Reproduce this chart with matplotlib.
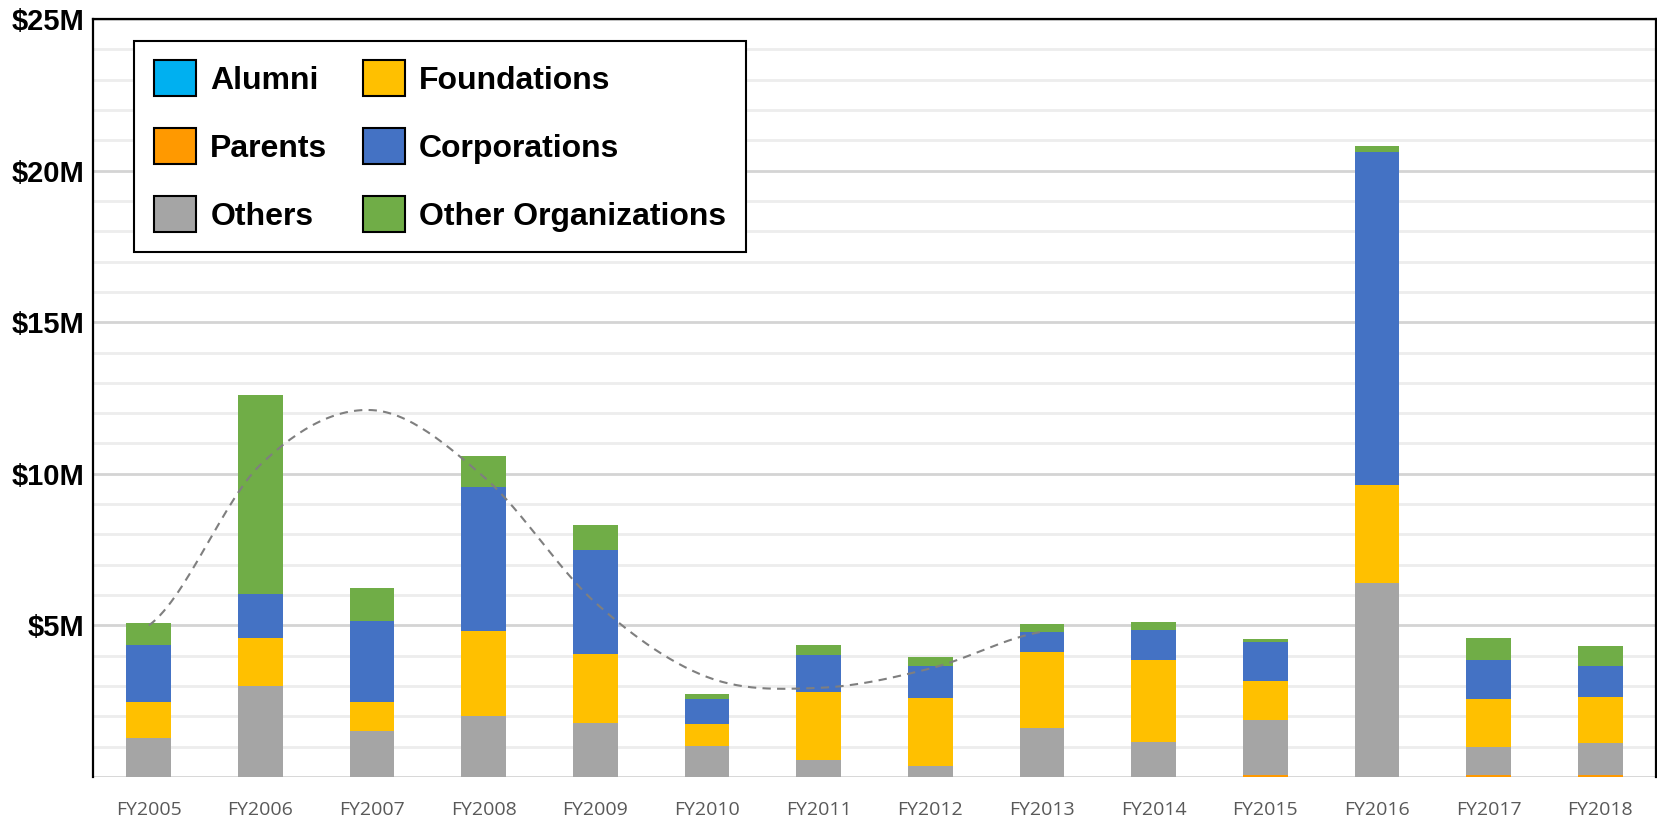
import numpy as np
import matplotlib.pyplot as plt
from matplotlib.patches import Patch

years = ['FY2005', 'FY2006', 'FY2007', 'FY2008', 'FY2009', 'FY2010', 'FY2011',
         'FY2012', 'FY2013', 'FY2014', 'FY2015', 'FY2016', 'FY2017', 'FY2018']

# values in $M
alumni = [0, 0, 0, 0, 0, 0, 0, 0, 0, 0, 0, 0, 0, 0]
parents = [0, 0, 0, 0, 0, 0, 0, 0, 0, 0, 0.05, 0, 0.07, 0.07]
others = [1.30, 2.99, 1.53, 2.01, 1.77, 1.02, 0.55, 0.36, 1.63, 1.14, 1.83, 6.40, 0.91, 1.06]
foundations = [1.19, 1.61, 0.93, 2.79, 2.28, 0.72, 2.26, 2.26, 2.48, 2.71, 1.29, 3.22, 1.59, 1.51]
corporations = [1.86, 1.45, 2.69, 4.78, 3.44, 0.84, 1.22, 1.05, 0.68, 1.00, 1.27, 11.00, 1.30, 1.02]
other_orgs = [0.74, 6.55, 1.07, 1.00, 0.83, 0.15, 0.32, 0.29, 0.24, 0.26, 0.12, 0.18, 0.73, 0.66]

# dashed trend curve, FY2005..FY2013
trend = [5.0, 10.3, 12.1, 9.9, 5.75, 3.3, 2.94, 3.58, 4.79]

series = [
    ('Alumni', alumni, '#00B0F0'),
    ('Parents', parents, '#FF9900'),
    ('Others', others, '#A5A5A5'),
    ('Foundations', foundations, '#FFC000'),
    ('Corporations', corporations, '#4472C4'),
    ('Other Organizations', other_orgs, '#70AD47'),
]

fig = plt.figure(figsize=(16.57, 8.17), dpi=100)
ax = fig.add_axes([93 / 1657, 40 / 817, 1563 / 1657, 758 / 817])

x = np.arange(len(years))
bottom = np.zeros(len(years))
for name, vals, col in series:
    ax.bar(x, vals, 0.4, bottom=bottom, color=col, zorder=3)
    bottom += np.array(vals)


# smooth curve through trend points (Catmull-Rom)
def smooth(ys, n=30):
    p = np.array([ys[0]] + list(ys) + [ys[-1]], dtype=float)
    xs_out, ys_out = [], []
    for i in range(1, len(p) - 2):
        t = np.linspace(0, 1, n, endpoint=False)
        p0, p1, p2, p3 = p[i - 1], p[i], p[i + 1], p[i + 2]
        y = 0.5 * (2 * p1 + (-p0 + p2) * t + (2 * p0 - 5 * p1 + 4 * p2 - p3) * t ** 2
                   + (-p0 + 3 * p1 - 3 * p2 + p3) * t ** 3)
        xs_out.extend(i - 1 + t)
        ys_out.extend(y)
    xs_out.append(len(ys) - 1)
    ys_out.append(ys[-1])
    return np.array(xs_out), np.array(ys_out)


tx, ty = smooth(trend)
ax.plot(tx, ty, color='#7F7F7F', lw=1.5, linestyle=(0, (4, 3)), zorder=4)

ax.set_xlim(-0.5, 13.5)
ax.set_ylim(0, 25)

# gridlines
for v in range(0, 26):
    if v % 5 == 0:
        ax.axhline(v, color='#D4D4D4', lw=2, zorder=1)
    else:
        ax.axhline(v, color='#EDEDED', lw=2, zorder=1)

ax.set_yticks([5, 10, 15, 20, 25])
ax.set_yticklabels(['$5M', '$10M', '$15M', '$20M', '$25M'],
                   fontfamily='Liberation Sans', fontweight='bold', fontsize=21)
ax.set_xticks(x)
ax.set_xticklabels(years, fontfamily='Open Sans', fontsize=14, color='#595959')
ax.tick_params(axis='y', length=0, pad=6)
ax.tick_params(axis='x', length=0, pad=17)

for s in ['left', 'top', 'right']:
    ax.spines[s].set_color('black')
    ax.spines[s].set_linewidth(1.6)
ax.spines['bottom'].set_visible(False)

handles = [Patch(facecolor=c, edgecolor='black', linewidth=1.5, label=n) for n, v, c in series]
leg = ax.legend(handles=handles, ncol=2, loc='upper left',
                bbox_to_anchor=(0.0262, 0.9714), fancybox=False, framealpha=1,
                edgecolor='black', handlelength=1.32, handleheight=1.35,
                handletextpad=0.45, columnspacing=1.1, labelspacing=1.0,
                borderpad=0.62, borderaxespad=0,
                prop={'family': 'Liberation Sans', 'weight': 'bold', 'size': 23})
leg.get_frame().set_linewidth(1.5)
leg.set_zorder(10)

fig.savefig('out.png', dpi=100)
